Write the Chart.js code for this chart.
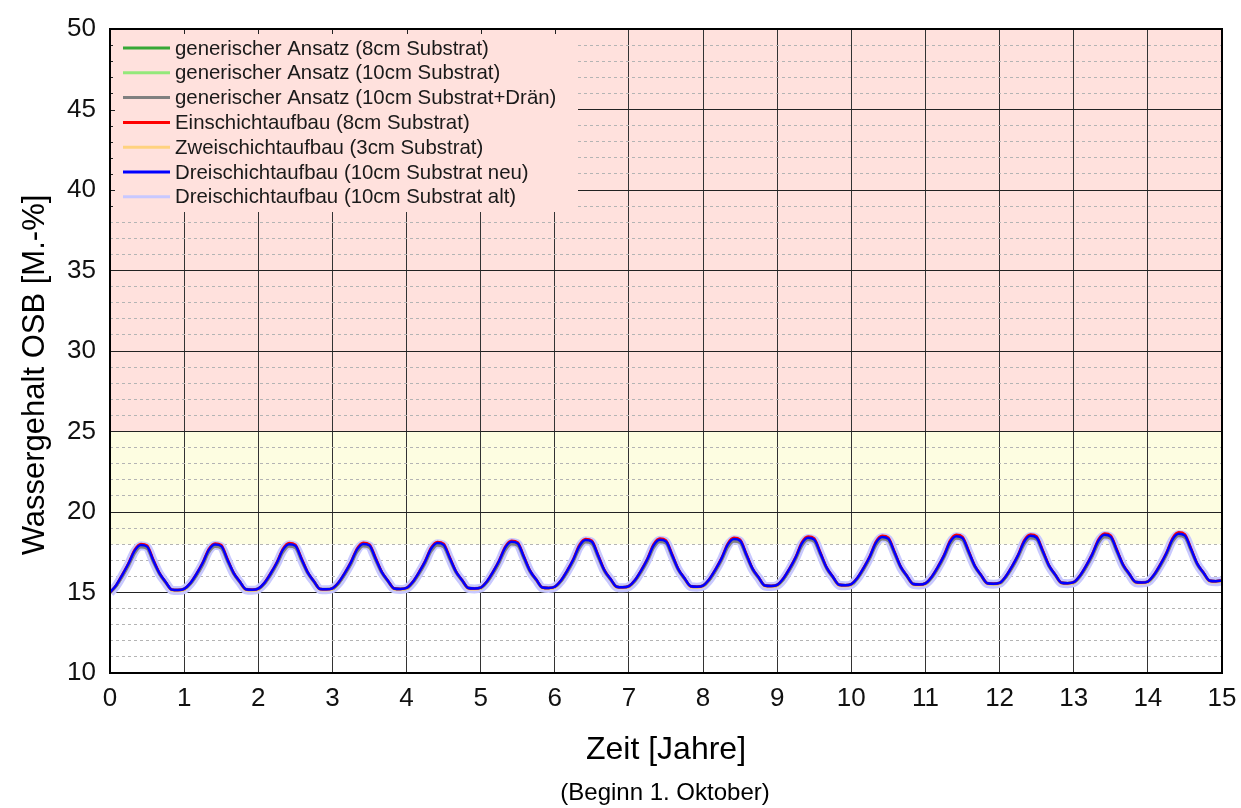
<!DOCTYPE html>
<html><head><meta charset="utf-8">
<script src="https://cdn.jsdelivr.net/npm/chart.js@4/dist/chart.umd.min.js"></script>
<style>html,body{margin:0;padding:0;background:#fff;}canvas{display:block;}</style>
</head><body>
<canvas id="c" width="1241" height="808"></canvas>
<script>
// ---------- data (monthly samples, start 1 October, 15 years) ----------
const xTickYears = [0,1,2,3,4,5,6,7,8,9,10,11,12,13,14,15];
const samplesPerYear = 12;
const seriesNames = [
  'generischer Ansatz (8cm Substrat)',
  'generischer Ansatz (10cm Substrat)',
  'generischer Ansatz (10cm Substrat+Drän)',
  'Einschichtaufbau (8cm Substrat)',
  'Zweischichtaufbau (3cm Substrat)',
  'Dreischichtaufbau (10cm Substrat neu)',
  'Dreischichtaufbau (10cm Substrat alt)'
];
const seriesColors = ['#36a836','#94e87a','#808080','#ff0000','#ffd27f','#0000ff','#c8c8ff'];

const generic8 = [
14.98,15.38,16.03,16.75,17.58,17.94,17.84,16.98,16.18,15.63,15.16,15.13,
15.17,15.51,16.08,16.78,17.63,17.97,17.87,17.03,16.20,15.66,15.18,15.15,
15.19,15.53,16.11,16.80,17.64,17.99,17.89,17.06,16.23,15.68,15.20,15.18,
15.21,15.55,16.13,16.82,17.66,18.01,17.91,17.08,16.25,15.70,15.23,15.20,
15.23,15.58,16.17,16.87,17.71,18.06,17.95,17.12,16.28,15.74,15.26,15.23,
15.25,15.61,16.21,16.92,17.78,18.14,18.03,17.18,16.32,15.78,15.29,15.26,
15.31,15.68,16.28,17.00,17.88,18.25,18.14,17.28,16.38,15.83,15.34,15.30,
15.35,15.71,16.31,17.03,17.91,18.27,18.16,17.30,16.42,15.86,15.37,15.34,
15.38,15.75,16.35,17.07,17.95,18.31,18.20,17.34,16.46,15.91,15.41,15.38,
15.42,15.80,16.41,17.14,18.03,18.39,18.27,17.41,16.52,15.96,15.46,15.43,
15.47,15.85,16.46,17.19,18.08,18.44,18.32,17.46,16.57,16.01,15.51,15.48,
15.52,15.90,16.51,17.24,18.13,18.49,18.37,17.51,16.62,16.06,15.56,15.53,
15.55,15.93,16.54,17.27,18.15,18.51,18.39,17.54,16.65,16.09,15.59,15.56,
15.59,15.97,16.58,17.32,18.20,18.57,18.45,17.58,16.69,16.13,15.63,15.60,
15.63,16.03,16.65,17.39,18.28,18.64,18.52,17.66,16.76,16.21,15.71,15.68,
15.73];

const generic10 = [
14.99,15.42,16.06,16.76,17.56,17.92,17.82,16.97,16.18,15.63,15.16,15.14,
15.20,15.55,16.11,16.79,17.61,17.95,17.85,17.02,16.20,15.66,15.18,15.16,
15.22,15.57,16.14,16.81,17.62,17.97,17.87,17.05,16.23,15.68,15.20,15.19,
15.24,15.59,16.16,16.83,17.64,17.99,17.89,17.07,16.25,15.70,15.23,15.21,
15.26,15.62,16.20,16.88,17.69,18.04,17.93,17.11,16.28,15.74,15.26,15.24,
15.28,15.65,16.24,16.93,17.76,18.12,18.01,17.17,16.32,15.78,15.29,15.27,
15.34,15.72,16.31,17.01,17.86,18.23,18.12,17.27,16.38,15.83,15.34,15.31,
15.38,15.75,16.34,17.04,17.89,18.25,18.14,17.29,16.42,15.86,15.37,15.35,
15.41,15.79,16.38,17.08,17.93,18.29,18.18,17.33,16.46,15.91,15.41,15.39,
15.45,15.84,16.44,17.15,18.01,18.37,18.25,17.40,16.52,15.96,15.46,15.44,
15.50,15.89,16.49,17.20,18.06,18.42,18.30,17.45,16.57,16.01,15.51,15.49,
15.55,15.94,16.54,17.25,18.11,18.47,18.35,17.50,16.62,16.06,15.56,15.54,
15.58,15.97,16.57,17.28,18.13,18.49,18.37,17.53,16.65,16.09,15.59,15.57,
15.62,16.01,16.61,17.33,18.18,18.55,18.43,17.57,16.69,16.13,15.63,15.61,
15.66,16.07,16.68,17.40,18.26,18.62,18.50,17.65,16.76,16.21,15.71,15.69,
15.74];

const generic10Drain = [
15.00,15.40,16.00,16.68,17.45,17.82,17.73,16.90,16.14,15.62,15.18,15.15,
15.22,15.53,16.05,16.71,17.50,17.85,17.76,16.95,16.16,15.65,15.20,15.17,
15.24,15.55,16.08,16.73,17.51,17.87,17.78,16.98,16.19,15.67,15.22,15.20,
15.26,15.57,16.10,16.75,17.53,17.89,17.80,17.00,16.21,15.69,15.25,15.22,
15.28,15.60,16.14,16.80,17.58,17.94,17.84,17.04,16.24,15.73,15.28,15.25,
15.30,15.63,16.18,16.85,17.65,18.02,17.92,17.10,16.28,15.77,15.31,15.28,
15.36,15.70,16.25,16.93,17.75,18.13,18.03,17.20,16.34,15.82,15.36,15.32,
15.40,15.73,16.28,16.96,17.78,18.15,18.05,17.22,16.38,15.85,15.39,15.36,
15.43,15.77,16.32,17.00,17.82,18.19,18.09,17.26,16.42,15.90,15.43,15.40,
15.47,15.82,16.38,17.07,17.90,18.27,18.16,17.33,16.48,15.95,15.48,15.45,
15.52,15.87,16.43,17.12,17.95,18.32,18.21,17.38,16.53,16.00,15.53,15.50,
15.57,15.92,16.48,17.17,18.00,18.37,18.26,17.43,16.58,16.05,15.58,15.55,
15.60,15.95,16.51,17.20,18.02,18.39,18.28,17.46,16.61,16.08,15.61,15.58,
15.64,15.99,16.55,17.25,18.07,18.45,18.34,17.50,16.65,16.12,15.65,15.62,
15.68,16.05,16.62,17.32,18.15,18.52,18.41,17.58,16.72,16.20,15.73,15.70,
15.75];

const einschicht8 = [
15.00,15.46,16.12,16.83,17.66,18.02,17.92,17.05,16.22,15.66,15.18,15.15,
15.22,15.59,16.17,16.86,17.71,18.05,17.95,17.10,16.24,15.69,15.20,15.17,
15.24,15.61,16.20,16.88,17.72,18.07,17.97,17.13,16.27,15.71,15.22,15.20,
15.26,15.63,16.22,16.90,17.74,18.09,17.99,17.15,16.29,15.73,15.25,15.22,
15.28,15.66,16.26,16.95,17.80,18.14,18.03,17.19,16.32,15.77,15.28,15.25,
15.30,15.69,16.30,17.00,17.87,18.22,18.11,17.25,16.36,15.81,15.31,15.28,
15.36,15.76,16.37,17.08,17.97,18.33,18.22,17.35,16.42,15.86,15.36,15.32,
15.40,15.79,16.40,17.11,18.00,18.36,18.24,17.37,16.46,15.89,15.39,15.36,
15.43,15.83,16.44,17.15,18.04,18.40,18.28,17.41,16.50,15.94,15.43,15.40,
15.47,15.88,16.50,17.22,18.13,18.48,18.36,17.48,16.56,15.99,15.48,15.45,
15.52,15.93,16.55,17.27,18.18,18.53,18.41,17.53,16.61,16.04,15.53,15.50,
15.57,15.98,16.60,17.32,18.23,18.58,18.46,17.58,16.66,16.09,15.58,15.55,
15.60,16.01,16.63,17.35,18.25,18.61,18.48,17.61,16.69,16.12,15.61,15.58,
15.64,16.05,16.67,17.40,18.30,18.67,18.54,17.65,16.73,16.16,15.65,15.62,
15.68,16.11,16.74,17.47,18.38,18.74,18.61,17.73,16.80,16.24,15.73,15.70,
15.75];

const zweischicht3 = [
14.96,15.43,16.08,16.78,17.58,17.93,17.83,16.98,16.17,15.60,15.12,15.09,
15.16,15.55,16.13,16.81,17.63,17.96,17.86,17.03,16.19,15.63,15.14,15.11,
15.18,15.57,16.16,16.83,17.64,17.98,17.88,17.06,16.22,15.65,15.16,15.14,
15.20,15.59,16.18,16.85,17.66,18.00,17.90,17.08,16.24,15.67,15.19,15.16,
15.22,15.62,16.22,16.90,17.71,18.05,17.94,17.12,16.27,15.71,15.22,15.19,
15.24,15.65,16.26,16.95,17.78,18.13,18.02,17.18,16.31,15.75,15.25,15.22,
15.30,15.72,16.33,17.03,17.88,18.24,18.13,17.28,16.37,15.80,15.30,15.26,
15.34,15.75,16.36,17.06,17.91,18.26,18.15,17.30,16.41,15.83,15.33,15.30,
15.37,15.79,16.40,17.10,17.95,18.30,18.19,17.34,16.45,15.88,15.37,15.34,
15.41,15.84,16.46,17.17,18.03,18.38,18.26,17.41,16.51,15.93,15.42,15.39,
15.46,15.89,16.51,17.22,18.08,18.43,18.31,17.46,16.56,15.98,15.47,15.44,
15.51,15.94,16.56,17.27,18.13,18.48,18.36,17.51,16.61,16.03,15.52,15.49,
15.54,15.97,16.59,17.30,18.15,18.50,18.38,17.54,16.64,16.06,15.55,15.52,
15.58,16.01,16.63,17.35,18.20,18.56,18.44,17.58,16.68,16.10,15.59,15.56,
15.62,16.07,16.70,17.42,18.28,18.63,18.51,17.66,16.75,16.18,15.67,15.64,
15.69];

const dreischichtNeu = [
15.00,15.45,16.10,16.80,17.60,17.95,17.85,17.00,16.20,15.65,15.18,15.15,
15.22,15.58,16.15,16.83,17.65,17.98,17.88,17.05,16.22,15.68,15.20,15.17,
15.24,15.60,16.18,16.85,17.66,18.00,17.90,17.08,16.25,15.70,15.22,15.20,
15.26,15.62,16.20,16.87,17.68,18.02,17.92,17.10,16.27,15.72,15.25,15.22,
15.28,15.65,16.24,16.92,17.73,18.07,17.96,17.14,16.30,15.76,15.28,15.25,
15.30,15.68,16.28,16.97,17.80,18.15,18.04,17.20,16.34,15.80,15.31,15.28,
15.36,15.75,16.35,17.05,17.90,18.26,18.15,17.30,16.40,15.85,15.36,15.32,
15.40,15.78,16.38,17.08,17.93,18.28,18.17,17.32,16.44,15.88,15.39,15.36,
15.43,15.82,16.42,17.12,17.97,18.32,18.21,17.36,16.48,15.93,15.43,15.40,
15.47,15.87,16.48,17.19,18.05,18.40,18.28,17.43,16.54,15.98,15.48,15.45,
15.52,15.92,16.53,17.24,18.10,18.45,18.33,17.48,16.59,16.03,15.53,15.50,
15.57,15.97,16.58,17.29,18.15,18.50,18.38,17.53,16.64,16.08,15.58,15.55,
15.60,16.00,16.61,17.32,18.17,18.52,18.40,17.56,16.67,16.11,15.61,15.58,
15.64,16.04,16.65,17.37,18.22,18.58,18.46,17.60,16.71,16.15,15.65,15.62,
15.68,16.10,16.72,17.44,18.30,18.65,18.53,17.68,16.78,16.23,15.73,15.70,
15.75];

const dreischichtAlt = [
14.98,15.41,16.05,16.75,17.55,17.91,17.81,16.96,16.16,15.62,15.15,15.12,
15.19,15.54,16.10,16.78,17.60,17.94,17.84,17.01,16.18,15.65,15.17,15.14,
15.21,15.56,16.13,16.80,17.61,17.96,17.86,17.04,16.21,15.67,15.19,15.17,
15.23,15.58,16.15,16.82,17.63,17.98,17.88,17.06,16.23,15.69,15.22,15.19,
15.25,15.61,16.19,16.87,17.68,18.03,17.92,17.10,16.26,15.73,15.25,15.22,
15.27,15.64,16.23,16.92,17.75,18.11,18.00,17.16,16.30,15.77,15.28,15.25,
15.33,15.71,16.30,17.00,17.85,18.22,18.11,17.26,16.36,15.82,15.33,15.29,
15.37,15.74,16.33,17.03,17.88,18.24,18.13,17.28,16.40,15.85,15.36,15.33,
15.40,15.78,16.37,17.07,17.92,18.28,18.17,17.32,16.44,15.90,15.40,15.37,
15.44,15.83,16.43,17.14,18.00,18.36,18.24,17.39,16.50,15.95,15.45,15.42,
15.49,15.88,16.48,17.19,18.05,18.41,18.29,17.44,16.55,16.00,15.50,15.47,
15.54,15.93,16.53,17.24,18.10,18.46,18.34,17.49,16.60,16.05,15.55,15.52,
15.57,15.96,16.56,17.27,18.12,18.48,18.36,17.52,16.63,16.08,15.58,15.55,
15.61,16.00,16.60,17.32,18.17,18.54,18.42,17.56,16.67,16.12,15.62,15.59,
15.65,16.06,16.67,17.39,18.25,18.61,18.49,17.64,16.74,16.20,15.70,15.67,
15.72];

const seriesValues = [generic8, generic10, generic10Drain, einschicht8, zweischicht3, dreischichtNeu, dreischichtAlt];
// ----------------------------------------------------------------------

const FONT = "'Liberation Sans', Arial, Helvetica, sans-serif";
Chart.defaults.font.family = FONT;

const widths = [2.5, 2.5, 3, 2.5, 2.5, 2.5, 9];
const orders = [6, 5, 3, 2, 4, 1, 9];   // lower order drawn on top

const datasets = seriesValues.map((vals, i) => ({
  label: seriesNames[i],
  data: vals.map((v, k) => ({x: k / samplesPerYear, y: v})),
  borderColor: seriesColors[i],
  backgroundColor: seriesColors[i],
  borderWidth: widths[i],
  pointRadius: 0,
  cubicInterpolationMode: 'monotone',
  fill: false,
  order: orders[i]
}));

const bgPlugin = {
  id: 'bands',
  beforeDraw(chart) {
    const {ctx, chartArea: a, scales: {y}} = chart;
    ctx.save();
    ctx.fillStyle = '#ffffff';
    ctx.fillRect(0, 0, chart.width, chart.height);
    ctx.fillStyle = '#ffe1dd';
    ctx.fillRect(a.left, y.getPixelForValue(50), a.right - a.left, y.getPixelForValue(25) - y.getPixelForValue(50));
    ctx.fillStyle = '#fdfde1';
    ctx.fillRect(a.left, y.getPixelForValue(25), a.right - a.left, y.getPixelForValue(18) - y.getPixelForValue(25));
    ctx.restore();
  }
};

const legendPlugin = {
  id: 'boxLegend',
  beforeDatasetsDraw(chart) {
    const {ctx, chartArea: a, scales: {x, y}} = chart;
    const L = a.left + 1, T = a.top + 1, R = 578, B = 212;
    ctx.save();
    ctx.fillStyle = '#ffe1dd';
    ctx.fillRect(L, T, R - L, B - T);
    ctx.strokeStyle = '#222';
    ctx.lineWidth = 1;
    xTickYears.forEach(v => {
      const px = Math.round(x.getPixelForValue(v)) + 0.5;
      if (px > L + 2 && px < R) {
        ctx.beginPath(); ctx.moveTo(px, a.top); ctx.lineTo(px, a.top + 5); ctx.stroke();
      }
    });
    for (let v = 10; v <= 50; v++) {
      const py = Math.round(y.getPixelForValue(v)) + 0.5;
      if (py > T + 2 && py < B) {
        const len = v % 5 === 0 ? 5 : 3;
        ctx.beginPath(); ctx.moveTo(a.left, py); ctx.lineTo(a.left + len, py); ctx.stroke();
      }
    }
    ctx.font = '20.4px ' + FONT;
    ctx.textBaseline = 'middle';
    ctx.textAlign = 'left';
    seriesNames.forEach((name, i) => {
      const cy = 48 + i * 24.8;
      ctx.strokeStyle = seriesColors[i];
      ctx.lineWidth = 3;
      ctx.beginPath(); ctx.moveTo(123, cy); ctx.lineTo(170, cy); ctx.stroke();
      ctx.fillStyle = '#1a1a1a';
      ctx.fillText(name, 175, cy + 1);
    });
    ctx.restore();
  },
  afterDraw(chart) {
    const {ctx, chartArea: a} = chart;
    ctx.save();
    ctx.strokeStyle = '#000';
    ctx.lineWidth = 2;
    ctx.strokeRect(a.left, a.top, a.right - a.left, a.bottom - a.top);
    ctx.fillStyle = '#000';
    ctx.font = '31px ' + FONT;
    ctx.textAlign = 'center';
    ctx.textBaseline = 'alphabetic';
    ctx.translate(44, 375);
    ctx.rotate(-Math.PI / 2);
    ctx.fillText('Wassergehalt OSB [M.-%]', 0, 0);
    ctx.restore();
    ctx.save();
    ctx.fillStyle = '#000';
    ctx.textAlign = 'center';
    ctx.textBaseline = 'alphabetic';
    ctx.font = '32px ' + FONT;
    ctx.fillText('Zeit [Jahre]', (a.left + a.right) / 2, 759);
    ctx.font = '24px ' + FONT;
    ctx.fillText('(Beginn 1. Oktober)', (a.left + a.right) / 2 - 1, 800);
    ctx.restore();
  }
};

new Chart(document.getElementById('c'), {
  type: 'line',
  data: {datasets},
  options: {
    responsive: false,
    animation: false,
    events: [],
    layout: {padding: {top: 29, right: 19, left: 0, bottom: 0}},
    plugins: {legend: {display: false}, tooltip: {enabled: false}, title: {display: false}},
    scales: {
      x: {
        type: 'linear', min: 0, max: 15,
        afterFit(s) { s.height = 135; s.paddingRight = 0; s.paddingLeft = 0; },
        afterBuildTicks(s) { s.ticks = xTickYears.map(v => ({value: v})); },
        ticks: {autoSkip: false, maxRotation: 0, padding: 10, color: '#111', font: {size: 26}, callback: v => String(v)},
        grid: {color: '#333', lineWidth: 1, drawTicks: false},
        border: {display: false}
      },
      y: {
        type: 'linear', min: 10, max: 50,
        afterFit(s) { s.width = 110; s.paddingTop = 0; s.paddingBottom = 0; },
        ticks: {stepSize: 1, autoSkip: false, padding: 14, color: '#111', font: {size: 26},
                callback: v => (v % 5 === 0 ? String(v) : '')},
        grid: {
          drawTicks: false,
          color: c => (c.tick && c.tick.value % 5 === 0 ? '#222' : '#b4b4b4'),
          lineWidth: 1
        },
        border: {display: false, dash: c => (c.tick && c.tick.value % 5 === 0 ? [] : [3, 3])}
      }
    }
  },
  plugins: [bgPlugin, legendPlugin]
});
</script>
</body></html>
